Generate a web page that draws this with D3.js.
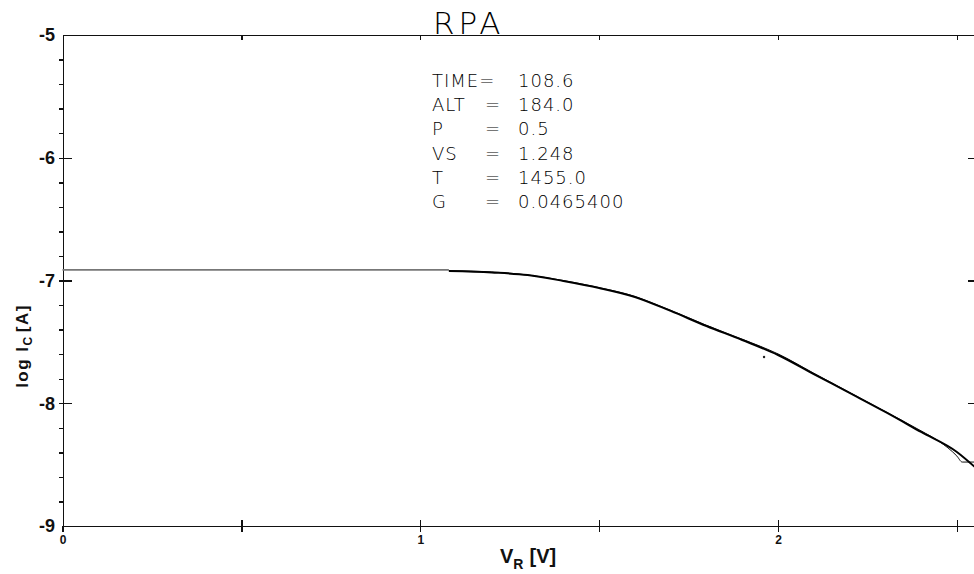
<!DOCTYPE html>
<html>
<head>
<meta charset="utf-8">
<script src="https://cdn.jsdelivr.net/npm/d3@7"></script>
<style>
  html, body { margin: 0; background: #fff; overflow: hidden; }
  svg { display: block; }
  .axis { color: #111; }
  .axis path, .axis line { stroke-width: 1.4; shape-rendering: crispEdges; }
  .ylab text { font-family: "Liberation Sans", Arial, sans-serif; font-weight: bold; font-size: 18px; }
  .xlab text { font-family: "Liberation Sans", Arial, sans-serif; font-weight: bold; font-size: 12px; }
  .plotter { font-family: "DejaVu Sans", sans-serif; font-weight: 200; fill: #000; }
</style>
</head>
<body>
<svg width="974" height="574"></svg>
<script>
'use strict';

// curva medida (V_R en voltios, log I_C en amperios)
var vMeas = [1.08, 1.2, 1.3, 1.4, 1.5, 1.6, 1.7, 1.8, 1.9, 2.0, 2.1, 2.2, 2.3, 2.4, 2.5, 2.55];
var logMeas = [-6.923, -6.935, -6.955, -7.004, -7.061, -7.134, -7.248, -7.371, -7.485, -7.607, -7.762, -7.916, -8.071, -8.234, -8.397, -8.519];

// curva ajustada
var vFit = [1.08, 1.2, 1.3, 1.4, 1.5, 1.6, 1.65, 1.7, 1.8, 1.9, 2.0, 2.1, 2.2, 2.3, 2.4, 2.45, 2.5, 2.515, 2.55];
var logFit = [-6.92, -6.93, -6.955, -7.0, -7.058, -7.13, -7.185, -7.242, -7.365, -7.478, -7.598, -7.755, -7.912, -8.068, -8.225, -8.31, -8.43, -8.479, -8.479];

// tramo plano inicial
var vFlat = [0, 1.08];
var logFlat = [-6.914, -6.914];

// punto suelto
var vDot = [1.961];
var logDot = [-7.623];

var xTicks = [0, 0.5, 1, 1.5, 2, 2.5];
var yTicks = [-9, -8, -7, -6, -5];
var infoLabels = ["TIME=", "ALT", "P", "VS", "T", "G"];
var infoValues = ["108.6", "184.0", "0.5", "1.248", "1455.0", "0.0465400"];

var svg = d3.select("svg");

// el cuadro sigue mas alla del borde derecho de la imagen
var x = d3.scaleLinear().domain([0, 2.56]).range([62.5, 62.5 + 2.56 * 357.75]);
var y = d3.scaleLinear().domain([-9, -5]).range([526, 35]);

var yMinor = d3.range(-9, -5.0001, 0.2).filter(function (d) { return Math.abs(d - Math.round(d)) > 0.01; });

// eje izquierdo: menores hacia fuera
svg.append("g")
  .attr("class", "axis")
  .attr("transform", "translate(63,0)")
  .call(d3.axisLeft(y).tickValues(yMinor).tickSize(4).tickSizeOuter(0).tickFormat(""));

// mayores cruzando el eje
svg.append("g")
  .attr("class", "axis ylab")
  .attr("transform", "translate(63,0)")
  .call(d3.axisLeft(y).tickValues(yTicks).tickSize(4).tickSizeOuter(0).tickPadding(4)
    .tickFormat(function (d) { return "-" + Math.abs(d); }))
  .call(function (g) {
    g.select(".domain").remove();
    g.selectAll(".tick line").attr("x2", function (d) { return d > -9 && d < -5 ? 9 : -4; }).attr("x1", -4);
  });

// marcas del eje derecho
svg.append("g")
  .attr("class", "axis")
  .attr("transform", "translate(974,0)")
  .call(d3.axisLeft(y).tickValues(yTicks.slice(1, 4)).tickSize(6).tickSizeOuter(0).tickFormat(""))
  .call(function (g) { g.select(".domain").remove(); });

// eje inferior, marcas cruzadas
svg.append("g")
  .attr("class", "axis xlab")
  .attr("transform", "translate(0,526)")
  .call(d3.axisBottom(x).tickValues(xTicks).tickSize(6).tickSizeOuter(0).tickPadding(3)
    .tickFormat(function (d) { return d % 1 === 0 ? d : ""; }))
  .call(function (g) {
    g.selectAll(".tick line").attr("y1", function (d) { return d > 0 ? -6 : 0; });
  });

// eje superior
svg.append("g")
  .attr("class", "axis")
  .attr("transform", "translate(0,35)")
  .call(d3.axisBottom(x).tickValues(xTicks.slice(1)).tickSize(5).tickSizeOuter(0).tickFormat(""));

var line = d3.line()
  .x(function (d) { return x(d[0]); })
  .y(function (d) { return y(d[1]); });

var smooth = d3.line()
  .curve(d3.curveMonotoneX)
  .x(function (d) { return x(d[0]); })
  .y(function (d) { return y(d[1]); });

svg.append("path")
  .datum(d3.zip(vFlat, logFlat))
  .attr("d", line)
  .attr("fill", "none")
  .attr("stroke", "#777")
  .attr("stroke-width", 1.8);

svg.append("path")
  .datum(d3.zip(vFit, logFit))
  .attr("d", smooth)
  .attr("fill", "none")
  .attr("stroke", "#111")
  .attr("stroke-width", 1);

svg.append("path")
  .datum(d3.zip(vMeas, logMeas))
  .attr("d", smooth)
  .attr("fill", "none")
  .attr("stroke", "#000")
  .attr("stroke-width", 2);

svg.selectAll(".dot")
  .data(d3.zip(vDot, logDot))
  .enter().append("circle")
  .attr("class", "dot")
  .attr("cx", function (d) { return x(d[0]); })
  .attr("cy", function (d) { return y(d[1]); })
  .attr("r", 1.2)
  .attr("fill", "#222");

// titulo
svg.append("text")
  .attr("class", "plotter")
  .attr("x", 433)
  .attr("y", 34)
  .attr("font-size", 31)
  .attr("letter-spacing", 4)
  .text("RPA");

// bloque de parametros
var info = svg.append("g").attr("class", "plotter").attr("font-size", 18).attr("letter-spacing", 1);
infoLabels.forEach(function (lab, i) {
  var yy = 87 + i * 24.2;
  info.append("text").attr("x", 432).attr("y", yy).text(lab);
  if (i > 0) info.append("text").attr("x", 485).attr("y", yy).text("=");
  info.append("text").attr("x", 518).attr("y", yy).text(infoValues[i]);
});

// titulos de ejes
var xt = svg.append("text")
  .attr("x", 500)
  .attr("y", 563)
  .attr("font-family", "Liberation Sans, Arial, sans-serif")
  .attr("font-weight", "bold")
  .attr("font-size", 20)
  .attr("fill", "#111");
xt.append("tspan").text("V");
xt.append("tspan").attr("font-size", 14).attr("dy", 6).text("R");
xt.append("tspan").attr("dy", -6).attr("dx", 6).text("[V]");

var yt = svg.append("text")
  .attr("transform", "translate(28,346) rotate(-90)")
  .attr("text-anchor", "middle")
  .attr("font-family", "Liberation Sans, Arial, sans-serif")
  .attr("font-weight", "bold")
  .attr("font-size", 17)
  .attr("letter-spacing", 1.5)
  .attr("fill", "#111");
yt.append("tspan").text("log I");
yt.append("tspan").attr("font-size", 12).attr("dy", 4).text("C");
yt.append("tspan").attr("dy", -4).attr("dx", 3).text("[A]");
</script>
</body>
</html>
